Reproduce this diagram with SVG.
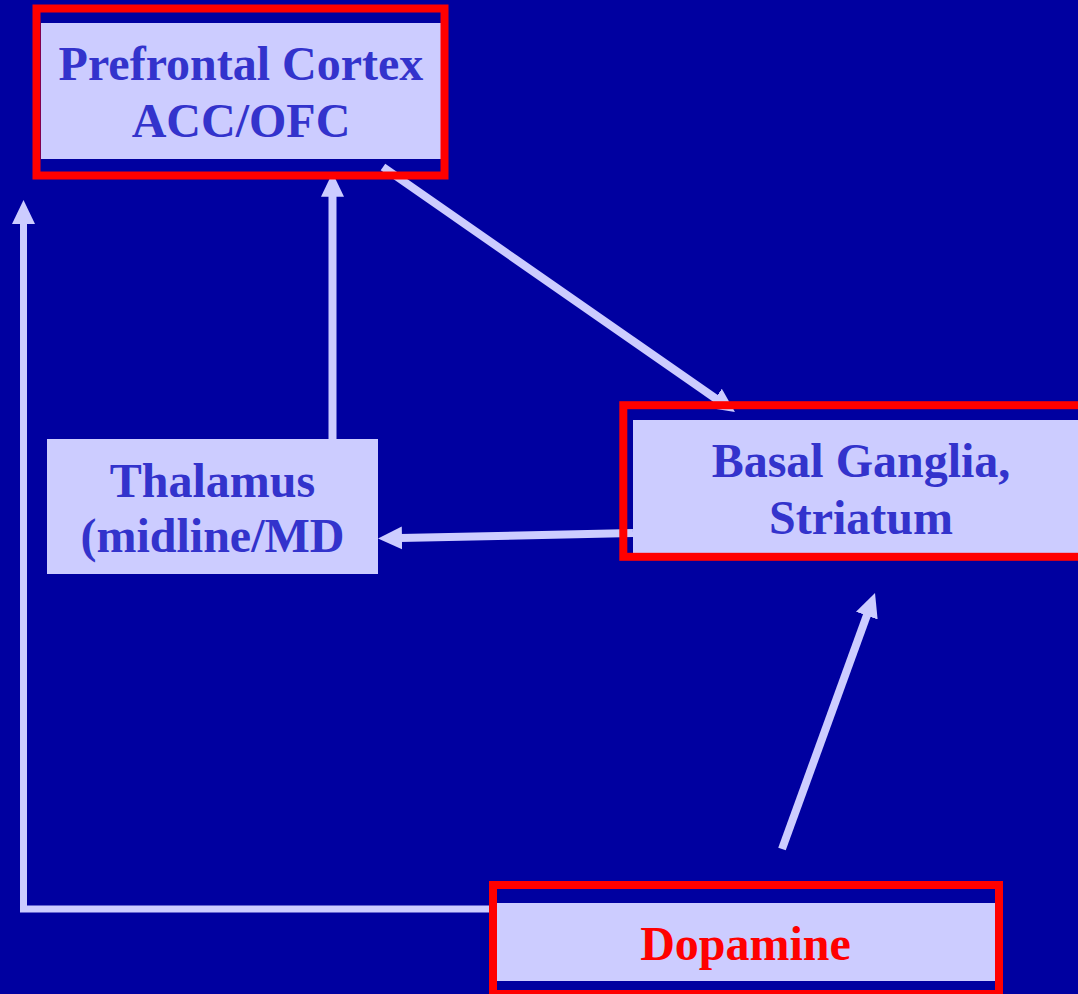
<svg xmlns="http://www.w3.org/2000/svg" width="1078" height="994" viewBox="0 0 1078 994">
<style>
.fill{fill:#CCCCFF;}
.frame{fill:none;stroke:#FF0000;stroke-width:8;}
.lbl{font-family:"Liberation Serif","Times New Roman",serif;font-weight:bold;font-size:48px;fill:#3333CC;text-anchor:middle;}
.red{fill:#FF0000;}
.conn{fill:none;stroke:#CCCCFF;stroke-width:8;stroke-linejoin:miter;}
</style>
<defs>
<marker id="ah" markerUnits="userSpaceOnUse" markerWidth="30" markerHeight="30" viewBox="0 -15 30 30" refX="2" refY="0" orient="auto">
<path d="M0,-11.5 L24,0 L0,11.5 Z" fill="#CCCCFF"/>
</marker>
</defs>
<rect x="0" y="0" width="1078" height="994" fill="#0000A0"/>
<g id="connectors">
<polyline class="conn" style="stroke-width:7" points="492,909 23.5,909 23.5,222" marker-end="url(#ah)"/>
<line class="conn" x1="332.5" y1="439" x2="332.5" y2="194.7" marker-end="url(#ah)"/>
<line class="conn" x1="383" y1="167" x2="716.9" y2="399.4" marker-end="url(#ah)"/>
<line class="conn" x1="633" y1="533" x2="400" y2="538" marker-end="url(#ah)"/>
<line class="conn" x1="782" y1="849" x2="867.5" y2="613.7" marker-end="url(#ah)"/>
</g>
<g id="prefrontal">
<rect class="fill" x="41" y="23" width="400" height="136"/>
<rect class="frame" x="36.5" y="8.5" width="408" height="167"/>
<text class="lbl" x="241" y="80">Prefrontal Cortex</text>
<text class="lbl" x="241" y="137">ACC/OFC</text>
</g>
<g id="thalamus">
<rect class="fill" x="47" y="439" width="331" height="135"/>
<text class="lbl" x="212.5" y="497">Thalamus</text>
<text class="lbl" x="212.5" y="552">(midline/MD</text>
</g>
<g id="basal">
<rect class="fill" x="633" y="420" width="460" height="133"/>
<rect class="frame" x="623.3" y="405.2" width="470" height="151.6"/>
<text class="lbl" x="861" y="477">Basal Ganglia,</text>
<text class="lbl" x="861" y="534">Striatum</text>
</g>
<g id="dopamine">
<rect class="fill" x="496.5" y="903" width="498.5" height="78"/>
<rect class="frame" x="493" y="885" width="506" height="109"/>
<text class="lbl red" x="745.5" y="960">Dopamine</text>
</g>
</svg>
